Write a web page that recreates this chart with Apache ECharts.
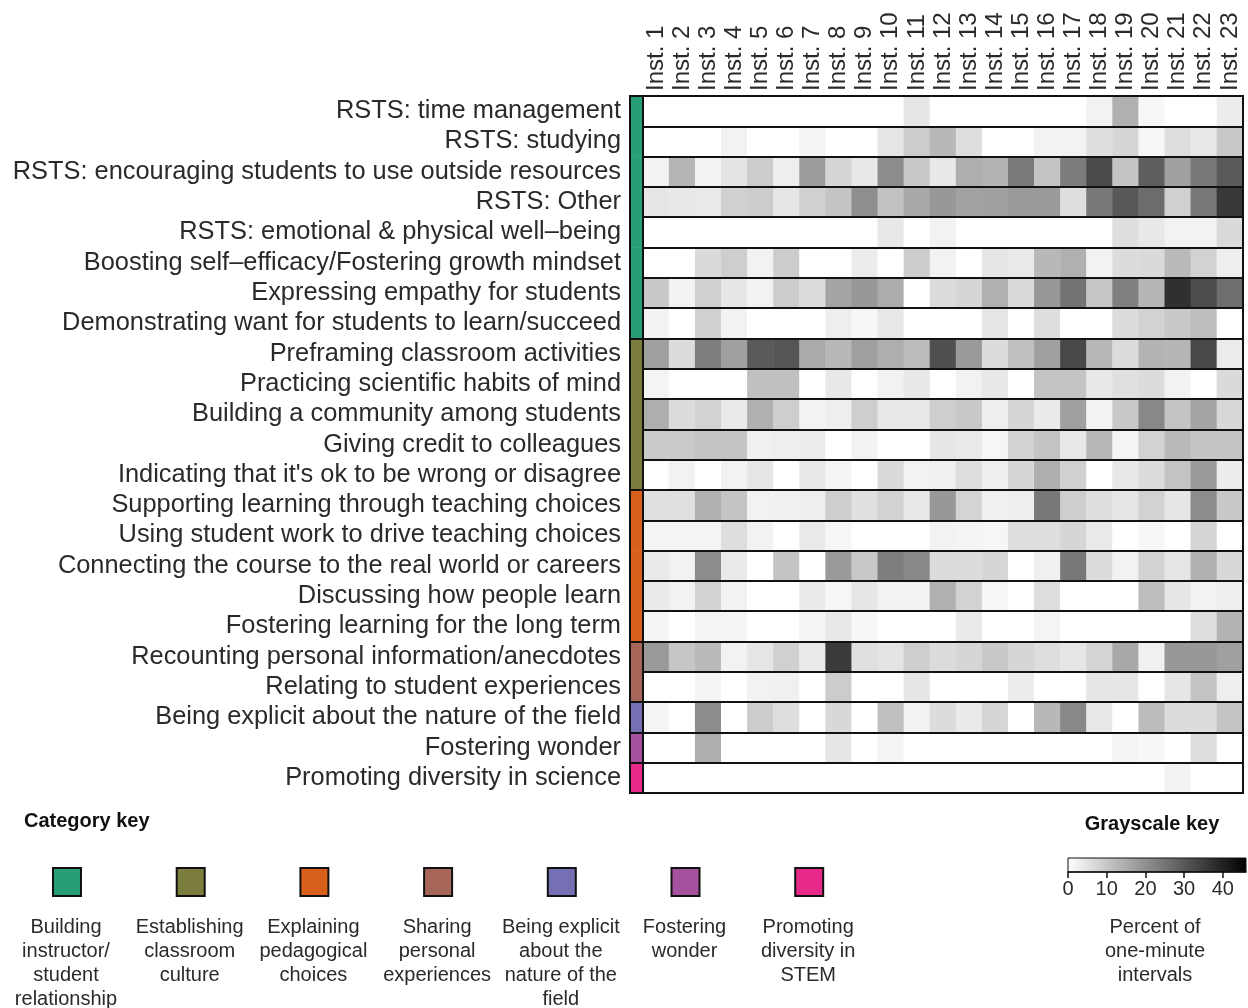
<!DOCTYPE html>
<html>
<head>
<meta charset="utf-8">
<script src="https://cdn.jsdelivr.net/npm/echarts@6/dist/echarts.min.js"></script>
<style>
html,body{margin:0;padding:0;background:#fff;}
#chart{width:1248px;height:1008px;}
</style>
</head>
<body>
<div id="chart"></div>
<script>
// ---------- data ----------
const institutions = ['Inst. 1','Inst. 2','Inst. 3','Inst. 4','Inst. 5','Inst. 6','Inst. 7','Inst. 8','Inst. 9','Inst. 10','Inst. 11','Inst. 12','Inst. 13','Inst. 14','Inst. 15','Inst. 16','Inst. 17','Inst. 18','Inst. 19','Inst. 20','Inst. 21','Inst. 22','Inst. 23'];

const behaviors = [
  'RSTS: time management',
  'RSTS: studying',
  'RSTS: encouraging students to use outside resources',
  'RSTS: Other',
  'RSTS: emotional & physical well\u2013being',
  'Boosting self\u2013efficacy/Fostering growth mindset',
  'Expressing empathy for students',
  'Demonstrating want for students to learn/succeed',
  'Preframing classroom activities',
  'Practicing scientific habits of mind',
  'Building a community among students',
  'Giving credit to colleagues',
  "Indicating that it's ok to be wrong or disagree",
  'Supporting learning through teaching choices',
  'Using student work to drive teaching choices',
  'Connecting the course to the real world or careers',
  'Discussing how people learn',
  'Fostering learning for the long term',
  'Recounting personal information/anecdotes',
  'Relating to student experiences',
  'Being explicit about the nature of the field',
  'Fostering wonder',
  'Promoting diversity in science'
];

// category index for each behaviour row
const behaviorCategory = [0,0,0,0,0,0,0,0, 1,1,1,1,1, 2,2,2,2,2, 3,3, 4, 5, 6];

const categoryNames = [
  'Building\ninstructor/\nstudent\nrelationship',
  'Establishing\nclassroom\nculture',
  'Explaining\npedagogical\nchoices',
  'Sharing\npersonal\nexperiences',
  'Being explicit\nabout the\nnature of the\nfield',
  'Fostering\nwonder',
  'Promoting\ndiversity in\nSTEM'
];
const categoryColors = ['#279e78','#7b7d3d','#d9601a','#a6665a','#7570b3','#a6519e','#e7298a'];

// percent of one-minute intervals, one row per behaviour, one column per institution
const percentValues = [
  [0,0,0,0,0,0,0,0,0,0,4.5,0,0,0,0,0,0,2.3,14.3,1.4,0,0,3.4],
  [0,0,0,2.3,0,0,2,0,0,4.5,9.2,12.8,6,0,0,2.3,2.3,6,7.4,1.4,6,4.1,9.9],
  [2.3,13.4,2.3,4.9,9.2,3.1,17.9,7.4,4.1,20.7,9.9,4.1,14.6,13.5,24,10.6,23.6,32.7,10.6,29,17.1,24.4,29.8],
  [4.5,4.1,3.8,8.5,9.2,4.5,8.5,10.6,20.4,11,15.7,18.6,16.8,17.1,18.2,18.2,6,24.4,30.1,26.5,8.5,24.4,35.9],
  [0,0,0,0,0,0,0,0,0,4.1,0,2.3,0,0,0,0,0,0,6,4.1,2.3,2.3,6.7],
  [0,0,6.7,8.8,2.3,9.2,0,0,3.4,0,9.2,2.3,0,4.5,3.8,12.8,14.3,2.3,6.3,6.7,12.4,8.1,3.1],
  [9.9,2.3,8.5,4.5,2.3,9.2,6.3,16.4,18.6,15,0,6.3,7.4,14.3,6.7,18.6,25.1,10.3,22.9,13.2,37.3,32.3,26.2],
  [2.3,0,8.5,2.3,0,0,0,3.1,1.4,4.1,0,0,0,4.5,0,6,0,0,6.3,8.1,9.9,11.7,0],
  [17.1,6.3,23.3,17.1,29.8,30.7,15.3,12.8,17.1,14.6,12.1,31.6,18.2,6.3,11.4,17.1,33,12.8,6.3,13.5,13.2,33,3.4],
  [2,0,0,0,11.4,11.4,0,4.1,0,2.3,4.1,0,2.3,4.1,0,10.6,10.6,4.1,5.6,6.3,2.3,0,6.7],
  [14.6,6.3,8.1,3.8,14.3,8.8,2.3,3.1,8.8,4.1,4.1,8.8,9.9,3.1,7.4,3.8,17.1,2.3,9.9,21.5,10.6,16.4,7],
  [9.6,9.6,10.6,10.6,2.7,3.1,3.4,0,2.3,0,0,4.5,3.8,1.6,8.1,10.6,4.1,12.8,2,8.1,12.4,10.6,10.6],
  [0,2.3,0,2.3,4.5,0,4.1,2,0,6.7,2.3,2.7,6,3.1,7.4,14.6,8.5,0,4.1,6.3,10.6,18.2,3.4],
  [5.6,5.6,14.3,10.6,2.3,2.7,3.1,8.8,5.6,8.1,4.1,18.6,7.8,2.7,3.1,24.4,8.8,6,4.5,8.1,4.5,20.7,9.9],
  [2,2,2,6,2.3,0,3.8,1.6,0,0,0,2.3,2,1.6,6,6,7.4,3.8,0,1.4,0,7.8,0],
  [3.8,2.3,20.7,3.8,0,10.6,0,18.2,9.9,23.3,21.5,6.3,6.3,7.4,0,2.7,24.4,6.3,2.3,8.1,4.5,14.3,7],
  [3.8,2.3,8.1,2.3,0,0,3.8,1.6,4.5,2.3,2.3,14.3,8.1,1.6,0,6,0,0,0,11.7,4.5,2.3,3.1],
  [2,0,2,2,0,0,2,4.1,1.2,0,0,0,3.8,0,0,2,0,0,0,0,0,6,13.5],
  [18.2,10.3,12.4,2.3,4.5,8.5,3.8,35.5,5.6,4.9,8.8,6.3,7.4,9.9,7.4,6,4.5,7.8,15.7,2.7,18.6,18.6,17.1],
  [0,0,2,0,2.3,2.7,0,9.2,0,0,4.5,0,0,0,3.4,0,0,4.5,4.5,0,4.5,10.6,3.1],
  [2,0,20.7,0,9.2,6,0,7,0,11.4,2.3,6.3,3.8,7.4,0,12.8,21.5,4.1,0,12.1,6.3,6.3,10.6],
  [0,0,14.6,0,0,0,0,4.5,0,2,0,0,0,0,0,0,0,0,2,1.4,0,6,0],
  [0,0,0,0,0,0,0,0,0,0,0,0,0,0,0,0,0,0,0,0,2.3,0,0]
];

const scaleMax = 46;
const scaleTicks = [0, 10, 20, 30, 40];

// ---------- build ----------
const FONT = '"Liberation Sans", Arial, sans-serif';
const TXT = '#2a2a2a';

const heatData = [];
percentValues.forEach((row, r) => row.forEach((v, c) => heatData.push([c, r, v])));
const catData = behaviorCategory.map((cat, r) => [0, r, cat]);

const chart = echarts.init(document.getElementById('chart'), null, {renderer: 'canvas'});

const keyGraphics = [];
categoryNames.forEach((name, i) => {
  const cx = 66 + i * 123.7;
  keyGraphics.push({
    type: 'rect', left: cx - 14, top: 867,
    shape: {width: 28, height: 28},
    style: {fill: categoryColors[i], stroke: '#111', lineWidth: 2}
  });
  keyGraphics.push({
    type: 'text', x: cx, y: 915,
    style: {text: name, textAlign: 'center', textVerticalAlign: 'top', font: '20px ' + FONT, fill: TXT, lineHeight: 24}
  });
});
keyGraphics.push({
  type: 'text', x: 24, y: 811,
  style: {text: 'Category key', font: 'bold 20px ' + FONT, fill: '#111'}
});
keyGraphics.push({
  type: 'text', x: 1152, y: 814,
  style: {text: 'Grayscale key', textAlign: 'center', font: 'bold 20px ' + FONT, fill: '#111'}
});
keyGraphics.push({
  type: 'text', x: 1155, y: 915,
  style: {text: 'Percent of\none-minute\nintervals', textAlign: 'center', font: '20px ' + FONT, fill: TXT, lineHeight: 24}
});

const option = {
  backgroundColor: '#fff',
  animation: false,
  textStyle: {fontFamily: FONT},
  grid: [
    {left: 643, top: 96, width: 600, height: 697, show: true, z: 6, backgroundColor: 'transparent', borderColor: '#111', borderWidth: 2},
    {left: 630, top: 96, width: 13, height: 697, show: true, z: 6, backgroundColor: 'transparent', borderColor: '#111', borderWidth: 2},
    {left: 1068, top: 858, width: 178, height: 14, show: true,
     backgroundColor: new echarts.graphic.LinearGradient(0, 0, 1, 0, [{offset: 0, color: '#ffffff'}, {offset: 1, color: '#000000'}]),
     borderColor: '#111', borderWidth: 1}
  ],
  xAxis: [
    {type: 'category', gridIndex: 0, data: institutions, position: 'top',
     axisLine: {show: false}, axisTick: {show: false}, splitLine: {show: false},
     axisLabel: {rotate: -90, interval: 0, fontSize: 24, color: TXT, margin: 5, fontFamily: FONT}},
    {type: 'category', gridIndex: 1, data: [''], show: false},
    {type: 'value', gridIndex: 2, min: 0, max: scaleMax, position: 'bottom',
     axisLine: {show: true, lineStyle: {color: '#111', width: 1.5}},
     axisTick: {show: true, length: 6, lineStyle: {color: '#111', width: 1.5}, customValues: scaleTicks},
     axisLabel: {fontSize: 20, color: TXT, margin: 7, customValues: scaleTicks},
     splitLine: {show: false}}
  ],
  yAxis: [
    {type: 'category', gridIndex: 0, data: behaviors, inverse: true, z: 4,
     axisLine: {show: false}, axisTick: {show: false}, axisLabel: {show: false},
     splitLine: {show: true, interval: 0, lineStyle: {color: '#111', width: 2}}},
    {type: 'category', gridIndex: 1, data: behaviors, inverse: true, z: 4,
     axisLine: {show: false}, axisTick: {show: false},
     axisLabel: {interval: 0, fontSize: 25.4, color: TXT, margin: 9, fontFamily: FONT},
     splitLine: {show: true, lineStyle: {color: '#111', width: 2},
       interval: function (idx) { return idx > 0 && behaviorCategory[idx] !== behaviorCategory[idx - 1]; }}},
    {type: 'value', gridIndex: 2, show: false}
  ],
  visualMap: [
    {type: 'continuous', show: false, min: 0, max: scaleMax, seriesIndex: 0, dimension: 2,
     inRange: {color: ['#ffffff', '#000000']}},
    {type: 'piecewise', show: false, seriesIndex: 1, dimension: 2,
     pieces: categoryColors.map((c, i) => ({value: i, color: c}))}
  ],
  series: [
    {type: 'heatmap', xAxisIndex: 0, yAxisIndex: 0, data: heatData, emphasis: {disabled: true}, progressive: 0},
    {type: 'heatmap', xAxisIndex: 1, yAxisIndex: 1, data: catData, emphasis: {disabled: true}, progressive: 0}
  ],
  graphic: keyGraphics
};
chart.setOption(option);
</script>
</body>
</html>
